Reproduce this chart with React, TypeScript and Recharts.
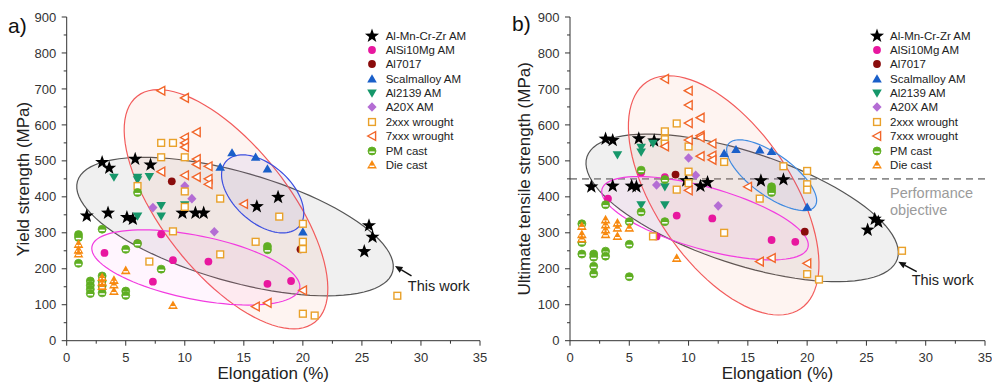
import React from 'react';
import { ScatterChart, Scatter, XAxis, YAxis, ReferenceLine, Legend } from 'recharts';

const FONT = "'Liberation Sans', Arial, Helvetica, sans-serif";
const AXIS = '#333';

// ticks
const X_TICKS = [0, 2.5, 5, 7.5, 10, 12.5, 15, 17.5, 20, 22.5, 25, 27.5, 30, 32.5, 35];
const Y_TICKS = [0, 50, 100, 150, 200, 250, 300, 350, 400, 450, 500, 550, 600, 650, 700, 750, 800, 850, 900];

// a) yield strength vs elongation
const YS_ALMN = [[1.7, 347], [3, 496], [3.5, 355], [3.6, 480], [5.1, 343], [5.6, 338], [5.8, 505], [7.1, 489], [9.8, 355], [10.9, 355], [11.6, 355], [16.1, 373], [17.9, 399], [25.6, 320], [25.9, 288], [25.2, 248]];
const YS_ALSI = [[3.2, 244], [6, 271], [8, 296], [7.3, 164], [9, 224], [12, 220], [17, 158], [19, 166]];
const YS_7017 = [[8.9, 443], [19.8, 254]];
const YS_SCAL = [[13, 482], [14, 522], [16, 510], [17, 477], [20, 302]];
const YS_2139 = [[4, 455], [6, 455], [6, 448], [7, 457], [8, 376], [8, 347], [6, 347], [10, 378]];
const YS_A20X = [[7.3, 370], [10, 430], [10.6, 395], [12.5, 303]];
const YS_2XXX = [[8, 550], [9, 550], [8, 510], [10, 510], [6, 430], [10, 415], [10, 372], [9, 304], [7, 220], [13, 395], [13, 240], [16, 275], [18, 345], [20, 325], [20, 275], [20, 255], [20, 75], [21, 70], [28, 125]];
const YS_7XXX = [[8, 695], [10, 675], [10, 565], [10, 550], [10, 538], [11, 580], [11, 505], [11, 490], [11, 455], [12, 485], [12, 450], [12, 435], [10, 460], [8, 470], [15, 380], [16, 95], [17, 105], [20, 140]];
const YS_PM = [[1, 295], [1, 287], [1, 215], [2, 166], [2, 154], [2, 143], [2, 131], [3, 310], [3, 180], [3, 166], [3, 152], [3, 133], [5, 254], [5, 138], [5, 126], [6, 412], [6, 270], [8, 199], [17, 262], [17, 253]];
const YS_DIE = [[1, 268], [1, 252], [1, 241], [3, 176], [3, 163], [3, 151], [4, 168], [4, 155], [4, 137], [5, 195], [9, 98]];

// b) UTS vs elongation
const UT_ALMN = [[1.8, 428], [3, 561], [3.6, 557], [3.6, 430], [5.2, 430], [5.6, 428], [5.8, 562], [7.1, 556], [9.8, 445], [11, 430], [11.6, 440], [16.1, 445], [18, 448], [25.7, 338], [26, 330], [25.1, 308]];
const UT_ALSI = [[3.2, 395], [6, 468], [8, 455], [7.3, 290], [9, 348], [12, 340], [17, 280], [19, 275]];
const UT_7017 = [[8.9, 462], [19.8, 303]];
const UT_SCAL = [[13, 520], [14, 531], [16, 530], [17, 526], [20, 371]];
const UT_2139 = [[4, 517], [6, 538], [6, 525], [7, 549], [8, 428], [6, 378], [8, 378], [10, 440]];
const UT_A20X = [[10, 508], [10.6, 460], [7.3, 433], [12.5, 375]];
const UT_2XXX = [[8, 582], [8, 560], [8, 548], [9, 604], [10, 540], [10, 470], [10, 438], [9, 420], [7, 290], [13, 497], [13, 300], [16, 395], [18, 485], [20, 472], [20, 435], [20, 420], [20, 185], [21, 170], [28, 250]];
const UT_7XXX = [[8, 728], [10, 695], [10, 655], [10, 605], [10, 558], [11, 620], [11, 570], [11, 565], [11, 513], [12, 548], [12, 515], [12, 503], [8, 540], [10, 418], [15, 428], [16, 220], [17, 230], [20, 215]];
const UT_PM = [[1, 325], [1, 273], [1, 241], [2, 241], [2, 232], [2, 207], [2, 186], [3, 378], [3, 249], [3, 235], [5, 331], [5, 268], [5, 178], [6, 474], [6, 358], [8, 448], [8, 331], [17, 428], [17, 420], [17, 412]];
const UT_DIE = [[1, 318], [1, 295], [1, 283], [3, 336], [3, 322], [3, 308], [3, 295], [4, 327], [4, 313], [4, 290], [5, 313], [9, 229]];

// ellipses: two ends of one diameter + end of the conjugate one
const YS_GRAY = [[0.91, 443], [27.6, 191.5], [15.53, 463.2]];
const YS_RED = [[5.97, 679.8], [21.01, 51.3], [17.71, 474.6]];
const YS_BLUE = [[13.51, 499], [19.68, 317.5], [18.21, 467.7]];
const YS_PINK = [[2.14, 262], [19.73, 145.3], [11.47, 290.3]];
const UT_GRAY = [[1.43, 511.2], [27.61, 227.3], [16.0, 517.4]];
const UT_RED = [[6.47, 719.2], [19.45, 88.9], [17.7, 510.5]];
const UT_BLUE = [[13.35, 546.6], [20.66, 373.8], [18.03, 507.2]];
const UT_PINK = [[2.7, 421.6], [20.07, 259.4], [12.09, 423.3]];

// "This work" arrows: tail, head
const YS_ARROW = [[29.2, 180], [27.8, 207.7]];
const UT_ARROW = [[29.24, 191.8], [27.69, 219.6]];
const OBJECTIVE = 450;

const toPts = (a: number[][]) => a.map(([x, y]) => ({ x, y }));

const C = {
  alsi: '#e8179f', a7017: '#8a0c0c', scal: '#1a5fc9', a2139: '#16976a', a20x: '#b46dd4',
  w2: '#e9a12a', w7: '#f2662a', pm: '#5fae22', die: '#f7890f',
};

function star(x: number, y: number) {
  let d = '';
  for (let i = 0; i < 10; i++) {
    const r = i % 2 === 0 ? 7.4 : 3.0;
    const a = -Math.PI / 2 + (i * Math.PI) / 5;
    d += (i ? 'L' : 'M') + (x + r * Math.cos(a)).toFixed(2) + ',' + (y + r * Math.sin(a)).toFixed(2);
  }
  return <path d={d + 'Z'} fill="#000" />;
}

const MARKS: Record<string, (x: number, y: number) => React.ReactElement> = {
  almn: star,
  alsi: (x, y) => <circle cx={x} cy={y} r={3.9} fill={C.alsi} />,
  a7017: (x, y) => <circle cx={x} cy={y} r={3.9} fill={C.a7017} />,
  scal: (x, y) => <path d={`M${x},${y - 4.8}L${x + 4.8},${y + 3.4}L${x - 4.8},${y + 3.4}Z`} fill={C.scal} />,
  a2139: (x, y) => <path d={`M${x},${y + 4.8}L${x + 4.8},${y - 3.4}L${x - 4.8},${y - 3.4}Z`} fill={C.a2139} />,
  a20x: (x, y) => <path d={`M${x},${y - 4.8}L${x + 4.6},${y}L${x},${y + 4.8}L${x - 4.6},${y}Z`} fill={C.a20x} />,
  w2: (x, y) => <rect x={x - 3.4} y={y - 3.4} width={6.8} height={6.8} fill="#fff" stroke={C.w2} strokeWidth={1.4} />,
  w7: (x, y) => <path d={`M${x - 4.3},${y}L${x + 3.6},${y - 4.4}L${x + 3.6},${y + 4.4}Z`} fill="#fff" stroke={C.w7} strokeWidth={1.4} />,
  pm: (x, y) => (
    <g>
      <circle cx={x} cy={y} r={4} fill={C.pm} stroke={C.pm} strokeWidth={0.8} />
      <rect x={x - 2.7} y={y + 0.4} width={5.4} height={1.5} fill="#fff" />
    </g>
  ),
  die: (x, y) => (
    <g>
      <path d={`M${x},${y - 5}L${x + 4.9},${y + 3.6}L${x - 4.9},${y + 3.6}Z`} fill={C.die} />
      <rect x={x - 2.4} y={y + 0.6} width={4.8} height={1.4} fill="#fff" />
    </g>
  ),
};

const NAMES = [
  ['almn', 'Al-Mn-Cr-Zr AM'], ['alsi', 'AlSi10Mg AM'], ['a7017', 'Al7017'], ['scal', 'Scalmalloy AM'],
  ['a2139', 'Al2139 AM'], ['a20x', 'A20X AM'], ['w2', '2xxx wrought'], ['w7', '7xxx wrought'],
  ['pm', 'PM cast'], ['die', 'Die cast'],
];

const tickText = { fontFamily: FONT, fontSize: 13, fill: '#333' };

function BottomTick(p: any) {
  const v = p.payload.value;
  const major = v % 5 === 0;
  return (
    <g>
      <line x1={p.x} y1={p.y} x2={p.x} y2={p.y + (major ? 5 : 3)} stroke={AXIS} />
      {major && <text x={p.x} y={p.y + 21} textAnchor="middle" style={tickText}>{v}</text>}
    </g>
  );
}
function TopTick(p: any) {
  const major = p.payload.value % 5 === 0;
  return <line x1={p.x} y1={p.y} x2={p.x} y2={p.y + (major ? 5 : 3)} stroke={AXIS} />;
}
function LeftTick(p: any) {
  const v = p.payload.value;
  const major = v % 100 === 0;
  return (
    <g>
      <line x1={p.x} y1={p.y} x2={p.x - (major ? 5 : 3)} y2={p.y} stroke={AXIS} />
      {major && <text x={p.x - 10.5} y={p.y + 4.6} textAnchor="end" style={tickText}>{v}</text>}
    </g>
  );
}
function RightTick(p: any) {
  const major = p.payload.value % 100 === 0;
  return <line x1={p.x} y1={p.y} x2={p.x - (major ? 5 : 3.5)} y2={p.y} stroke={AXIS} />;
}

const ellipseLine = (stroke: string, fill: string) => (props: any) => {
  const pts = props.points;
  if (!pts || pts.length < 3) return <g />;
  const [a, b, c] = pts;
  const mx = (a.x + b.x) / 2, my = (a.y + b.y) / 2;
  const ux = a.x - mx, uy = a.y - my, vx = c.x - mx, vy = c.y - my;
  let d = '';
  for (let i = 0; i <= 96; i++) {
    const t = (i / 96) * Math.PI * 2;
    const px = mx + ux * Math.cos(t) + vx * Math.sin(t);
    const py = my + uy * Math.cos(t) + vy * Math.sin(t);
    d += (i ? 'L' : 'M') + px.toFixed(2) + ',' + py.toFixed(2);
  }
  return <path d={d + 'Z'} fill={fill} stroke={stroke} strokeWidth={1.2} />;
};

const arrowShape = (dx: number, dy: number) => (p: any) => {
  const { x1, y1, x2, y2 } = p;
  const ang = Math.atan2(y2 - y1, x2 - x1);
  const L = 7.5, W = 3.3;
  const bx = x2 - L * Math.cos(ang), by = y2 - L * Math.sin(ang);
  const nx = -Math.sin(ang) * W, ny = Math.cos(ang) * W;
  return (
    <g>
      <line x1={x1} y1={y1} x2={bx} y2={by} stroke="#111" strokeWidth={1.5} />
      <path d={`M${x2},${y2}L${bx + nx},${by + ny}L${bx - nx},${by - ny}Z`} fill="#111" />
      <text x={x1 + dx} y={y1 + dy} style={{ fontFamily: FONT, fontSize: 14.5, fill: '#222' }}>This work</text>
    </g>
  );
};

function LegendBox() {
  return (
    <div style={{ fontFamily: FONT, fontSize: 11.5, color: '#222' }}>
      {NAMES.map(([k, name]) => (
        <div key={k} style={{ display: 'flex', alignItems: 'center', height: 14.37 }}>
          <svg width={14} height={14} style={{ marginRight: 6.4, overflow: 'visible' }}>{MARKS[k](7, 7)}</svg>
          <span style={{ whiteSpace: 'nowrap' }}>{name}</span>
        </div>
      ))}
    </div>
  );
}

function Panel({ series, ellipses, arrow, axisW, right, legendLeft, tdx, tdy, dashed }: any) {
  return (
    <ScatterChart width={496} height={384} margin={{ top: 17, right, bottom: 0, left: 0 }} style={{ fontFamily: FONT }}>
      <XAxis type="number" dataKey="x" domain={[0, 35]} ticks={X_TICKS} interval={0} height={43.3}
             tickSize={0} tickMargin={0} tick={BottomTick} axisLine={{ stroke: AXIS }} allowDataOverflow />
      <YAxis type="number" dataKey="y" domain={[0, 900]} ticks={Y_TICKS} interval={0} width={axisW}
             tickSize={0} tickMargin={0} tick={LeftTick} axisLine={{ stroke: AXIS }} allowDataOverflow />
      <XAxis xAxisId="top" orientation="top" type="number" dataKey="x" domain={[0, 35]} ticks={X_TICKS} interval={0}
             height={0} tickSize={0} tickMargin={0} tick={TopTick} axisLine={{ stroke: AXIS }} allowDataOverflow />
      <YAxis yAxisId="right" orientation="right" type="number" dataKey="y" domain={[0, 900]} ticks={Y_TICKS} interval={0}
             width={0} tickSize={0} tickMargin={0} tick={RightTick} axisLine={{ stroke: AXIS }} allowDataOverflow />
      {ellipses.map((e: any, i: number) => (
        <Scatter key={'e' + i} xAxisId="top" yAxisId="right" data={toPts(e.pts)} line={ellipseLine(e.stroke, e.fill)}
                 shape={() => <g />} legendType="none" isAnimationActive={false} />
      ))}
      {dashed && <ReferenceLine y={OBJECTIVE} stroke="#8d8d8d" strokeWidth={1.8} strokeDasharray="7 5" />}
      {series.map((s: any) => (
        <Scatter key={s.key} name={s.key} data={toPts(s.data)} shape={(p: any) => MARKS[s.key](p.cx, p.cy)}
                 isAnimationActive={false} />
      ))}
      <ReferenceLine xAxisId="top" yAxisId="right"
                     segment={[{ x: arrow[0][0], y: arrow[0][1] }, { x: arrow[1][0], y: arrow[1][1] }]}
                     shape={arrowShape(tdx, tdy)} />
      <Legend layout="vertical" align="center" verticalAlign="middle" content={<LegendBox />}
              wrapperStyle={{ left: legendLeft, top: 28.5, width: 'auto', height: 'auto' }} />
    </ScatterChart>
  );
}

const ellipseSet = (gray: number[][], red: number[][], blue: number[][], pink: number[][], blueStroke: string) => [
  { pts: gray, stroke: '#555', fill: 'rgba(160,160,160,0.16)' },
  { pts: red, stroke: '#f25c5c', fill: 'rgba(245,110,80,0.08)' },
  { pts: blue, stroke: blueStroke, fill: 'rgba(90,90,220,0.08)' },
  { pts: pink, stroke: '#f23ce0', fill: 'rgba(255,90,240,0.06)' },
];

const YS_SERIES = [
  { key: 'almn', data: YS_ALMN }, { key: 'alsi', data: YS_ALSI }, { key: 'a7017', data: YS_7017 },
  { key: 'scal', data: YS_SCAL }, { key: 'a2139', data: YS_2139 }, { key: 'a20x', data: YS_A20X },
  { key: 'w2', data: YS_2XXX }, { key: 'w7', data: YS_7XXX }, { key: 'pm', data: YS_PM }, { key: 'die', data: YS_DIE },
];
const UT_SERIES = [
  { key: 'almn', data: UT_ALMN }, { key: 'alsi', data: UT_ALSI }, { key: 'a7017', data: UT_7017 },
  { key: 'scal', data: UT_SCAL }, { key: 'a2139', data: UT_2139 }, { key: 'a20x', data: UT_A20X },
  { key: 'w2', data: UT_2XXX }, { key: 'w7', data: UT_7XXX }, { key: 'pm', data: UT_PM }, { key: 'die', data: UT_DIE },
];

const title = { fontFamily: FONT, fontSize: 17, fill: '#222' };

export default function App() {
  return (
    <div style={{ position: 'absolute', left: 0, top: 0, width: 992, height: 384, background: '#fff' }}>
      <div style={{ position: 'absolute', left: 0, top: 0 }}>
        <Panel series={YS_SERIES} ellipses={ellipseSet(YS_GRAY, YS_RED, YS_BLUE, YS_PINK, '#3d4fe0')}
               arrow={YS_ARROW} axisW={66.7} right={16} legendLeft={365.3} tdx={-3.7} tdy={15} />
      </div>
      <div style={{ position: 'absolute', left: 496, top: 0 }}>
        <Panel series={UT_SERIES} ellipses={ellipseSet(UT_GRAY, UT_RED, UT_BLUE, UT_PINK, '#3f8ae0')}
               arrow={UT_ARROW} axisW={74} right={7} legendLeft={373.7} tdx={-5} tdy={13.3} dashed />
      </div>
      <svg width={992} height={384} style={{ position: 'absolute', left: 0, top: 0, pointerEvents: 'none' }}>
        <text x={8} y={33} style={{ fontFamily: FONT, fontSize: 21, fill: '#111' }}>a)</text>
        <text x={512} y={31} style={{ fontFamily: FONT, fontSize: 21, fill: '#111' }}>b)</text>
        <text transform="translate(28.5,179) rotate(-90)" textAnchor="middle" style={title}>Yield strength (MPa)</text>
        <text transform="translate(530,178.8) rotate(-90)" textAnchor="middle" style={title}>Ultimate tensile strength (MPa)</text>
        <text x={273.3} y={379} textAnchor="middle" style={title}>Elongation (%)</text>
        <text x={777.5} y={379} textAnchor="middle" style={title}>Elongation (%)</text>
        <text x={890} y={198} style={{ fontFamily: FONT, fontSize: 14.5, fill: '#9b9b9b' }}>Performance</text>
        <text x={890} y={214.5} style={{ fontFamily: FONT, fontSize: 14.5, fill: '#9b9b9b' }}>objective</text>
      </svg>
    </div>
  );
}
